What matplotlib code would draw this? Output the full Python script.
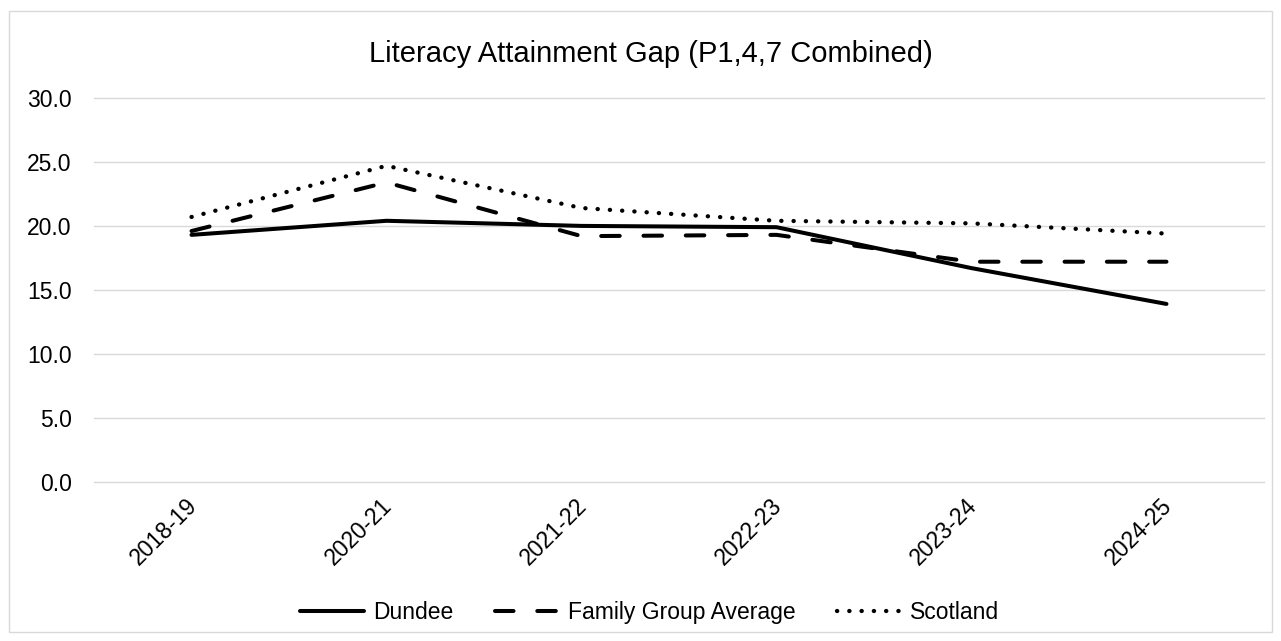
"""
Literacy attainment gap chart (P1, P4, P7 combined), Excel-style line chart.
"""

import matplotlib

matplotlib.use("Agg")
import matplotlib.pyplot as plt
import matplotlib.transforms as mtransforms
from matplotlib.patches import Rectangle

plt.rcParams["font.family"] = ["Liberation Sans", "DejaVu Sans"]

# Data
years = ["2018-19", "2020-21", "2021-22", "2022-23", "2023-24", "2024-25"]
dundee = [19.3, 20.4, 20.0, 19.9, 16.7, 13.9]
family_group = [19.6, 23.4, 19.2, 19.3, 17.2, 17.2]
scotland = [20.7, 24.7, 21.4, 20.4, 20.2, 19.4]
y_ticks = [0, 5, 10, 15, 20, 25, 30]

GRID_COLOR = "#d9d9d9"
LINE_W = 2.9
FONT_SIZE = 16.5

fig = plt.figure(figsize=(12.81, 6.41), dpi=100)
ax = fig.add_axes([0.0734, 0.2485, 0.9133, 0.5986])

x = range(len(years))
ax.plot(x, dundee, color="black", lw=LINE_W, label="Dundee",
        solid_capstyle="round", solid_joinstyle="round")
ax.plot(x, family_group, color="black", lw=LINE_W, label="Family Group Average",
        linestyle=(0, (4.6, 5.9)), dash_capstyle="round")
ax.plot(x, scotland, color="black", lw=3.1, label="Scotland",
        linestyle=(0, (0.05, 2.8)), dash_capstyle="round")

ax.set_xlim(-0.5, len(years) - 0.5)
ax.set_ylim(0, 30)
ax.set_yticks(y_ticks)
ax.set_yticklabels([f"{v:.1f}" for v in y_ticks], fontsize=FONT_SIZE)
ax.set_xticks(list(x))
ax.set_xticklabels(years, fontsize=FONT_SIZE, rotation=45,
                   ha="right", va="top", rotation_mode="anchor")
ax.tick_params(axis="both", length=0)
ax.tick_params(axis="y", pad=16)
ax.tick_params(axis="x", pad=9)

# nudge rotated year labels slightly left, as in the reference
shift = mtransforms.ScaledTranslation(-0.06, 0, fig.dpi_scale_trans)
for lbl in ax.get_xticklabels():
    lbl.set_transform(lbl.get_transform() + shift)

ax.grid(axis="y", color=GRID_COLOR, lw=1.0)
for gl in ax.get_ygridlines():
    gl.set_clip_on(False)
ax.set_axisbelow(True)
for spine in ax.spines.values():
    spine.set_visible(False)

fig.text(0.508, 0.915, "Literacy Attainment Gap (P1,4,7 Combined)",
         ha="center", va="center", fontsize=21)

fig.legend(loc="center", bbox_to_anchor=(0.507, 0.045), ncol=3, frameon=False,
           fontsize=FONT_SIZE, handlelength=2.8, handletextpad=0.4,
           columnspacing=1.8)

# Light grey chart-area border
fig.patches.append(Rectangle((9 / 1281, 9 / 641), 1263 / 1281, 621 / 641,
                             transform=fig.transFigure, fill=False,
                             edgecolor=GRID_COLOR, lw=1.0))

fig.savefig("out.png", dpi=100)
plt.close(fig)
